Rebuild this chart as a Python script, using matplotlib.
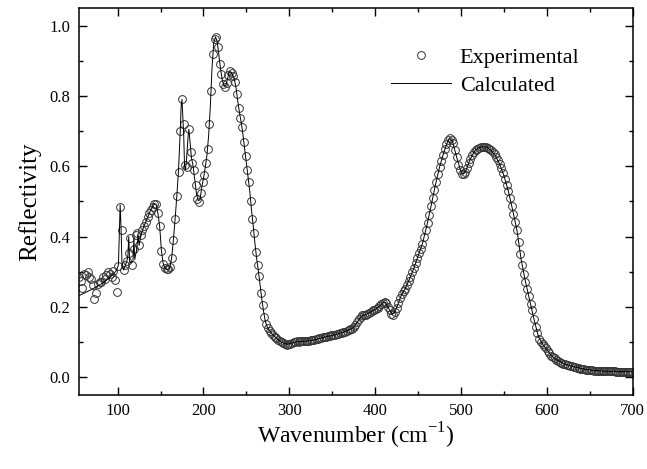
import numpy as np
import matplotlib
matplotlib.use("Agg")
import matplotlib.pyplot as plt
from matplotlib.ticker import MultipleLocator

plt.rcParams["font.family"] = ["Liberation Serif", "DejaVu Serif"]
plt.rcParams["mathtext.fontset"] = "custom"
plt.rcParams["mathtext.rm"] = "Liberation Serif"

# ---------------- data ----------------

# experimental spectrum, sampled every 2 cm-1 from 55 to 699
wn_exp = np.arange(55, 700, 2)
refl_exp = [
    # 55 - 99
    0.285, 0.275, 0.255, 0.295, 0.290, 0.298, 0.285, 0.280, 0.262, 0.224,
    0.240, 0.265, 0.272, 0.270, 0.286, 0.280, 0.290, 0.300, 0.293, 0.285,
    0.302, 0.278, 0.243,
    # 101 - 149
    0.316, 0.483, 0.420, 0.305, 0.319, 0.330, 0.352, 0.395, 0.320, 0.366,
    0.404, 0.409, 0.376, 0.404, 0.418, 0.430, 0.442, 0.455, 0.466, 0.477,
    0.485, 0.494, 0.492, 0.466, 0.430,
    # 151 - 199
    0.360, 0.322, 0.310, 0.307, 0.308, 0.315, 0.340, 0.390, 0.450, 0.515,
    0.584, 0.700, 0.790, 0.720, 0.605, 0.598, 0.705, 0.640, 0.610, 0.590,
    0.546, 0.507, 0.499, 0.525, 0.556,
    # 201 - 249
    0.575, 0.610, 0.650, 0.720, 0.815, 0.920, 0.962, 0.968, 0.940, 0.890,
    0.862, 0.835, 0.824, 0.836, 0.860, 0.871, 0.865, 0.856, 0.840, 0.805,
    0.765, 0.738, 0.712, 0.670, 0.630,
    # 251 - 299
    0.590, 0.555, 0.500, 0.450, 0.410, 0.355, 0.320, 0.288, 0.240, 0.205,
    0.172, 0.152, 0.140, 0.132, 0.126, 0.120, 0.115, 0.111, 0.107, 0.103,
    0.100, 0.098, 0.096, 0.093, 0.094,
    # 301 - 349
    0.096, 0.098, 0.100, 0.101, 0.102, 0.101, 0.102, 0.103, 0.102, 0.103,
    0.104, 0.104, 0.105, 0.106, 0.107, 0.108, 0.110, 0.111, 0.113, 0.114,
    0.115, 0.116, 0.117, 0.118, 0.119,
    # 351 - 399
    0.120, 0.121, 0.122, 0.124, 0.126, 0.127, 0.129, 0.130, 0.132, 0.134,
    0.136, 0.138, 0.142, 0.148, 0.156, 0.165, 0.172, 0.176, 0.176, 0.177,
    0.180, 0.183, 0.186, 0.190, 0.192,
    # 401 - 449
    0.195, 0.198, 0.202, 0.207, 0.212, 0.214, 0.210, 0.200, 0.190, 0.181,
    0.178, 0.185, 0.198, 0.212, 0.226, 0.236, 0.244, 0.252, 0.262, 0.274,
    0.286, 0.298, 0.310, 0.324, 0.338,
    # 451 - 499
    0.352, 0.366, 0.380, 0.398, 0.418, 0.440, 0.462, 0.486, 0.510, 0.533,
    0.556, 0.578, 0.598, 0.615, 0.632, 0.648, 0.662, 0.674, 0.679, 0.676,
    0.665, 0.645, 0.625, 0.605, 0.588,
    # 501 - 549
    0.579, 0.578, 0.584, 0.596, 0.610, 0.622, 0.632, 0.640, 0.646, 0.650,
    0.653, 0.655, 0.656, 0.656, 0.655, 0.652, 0.649, 0.645, 0.640, 0.634,
    0.626, 0.617, 0.606, 0.594, 0.580,
    # 551 - 599
    0.565, 0.548, 0.530, 0.510, 0.488, 0.465, 0.442, 0.420, 0.385, 0.350,
    0.320, 0.295, 0.272, 0.252, 0.230, 0.208, 0.190, 0.165, 0.143, 0.125,
    0.110, 0.100, 0.094, 0.088, 0.082,
    # 601 - 649
    0.076, 0.070, 0.062, 0.058, 0.054, 0.050, 0.047, 0.044, 0.041, 0.039,
    0.037, 0.036, 0.035, 0.033, 0.031, 0.030, 0.028, 0.027, 0.026, 0.025,
    0.024, 0.023, 0.022, 0.021, 0.021,
    # 651 - 699
    0.020, 0.020, 0.019, 0.019, 0.019, 0.018, 0.018, 0.018, 0.018, 0.017,
    0.017, 0.017, 0.017, 0.017, 0.017, 0.016, 0.016, 0.016, 0.016, 0.016,
    0.016, 0.016, 0.016, 0.016, 0.016,
]

# calculated (fitted) curve
wn_calc = [
    55, 60, 65, 70, 75, 80, 85, 90, 95, 99,
    101, 102, 103, 104, 105, 107, 109, 111, 112, 113,
    114, 116, 118, 119, 120, 122, 124, 125, 127, 129,
    132, 135, 138, 141, 143, 145, 147, 149, 151, 153,
    155, 157, 159, 161, 163, 165, 167, 169, 171, 173,
    174, 175, 176, 177, 178, 179, 180, 182, 183, 184,
    186, 188, 190, 192, 194, 196, 198, 200, 202, 204,
    206, 208, 210, 212, 214, 216, 218, 220, 222, 224,
    226, 228, 230, 232, 234, 236, 238, 240, 242, 244,
    246, 248, 250, 252, 254, 256, 258, 260, 262, 264,
    266, 268, 270, 272, 274, 276, 280, 285, 290, 295,
    298, 302, 308, 315, 320, 330, 340, 350, 360, 370,
    375, 380, 384, 388, 395, 400, 405, 410, 412, 416,
    420, 423, 426, 430, 435, 440, 445, 450, 455, 460,
    465, 470, 475, 480, 485, 487, 490, 495, 500, 503,
    506, 510, 515, 520, 525, 530, 535, 540, 545, 550,
    555, 560, 565, 570, 575, 580, 585, 590, 595, 600,
    605, 610, 620, 630, 640, 650, 660, 670, 680, 690,
    700,
]
refl_calc = [
    0.232, 0.238, 0.244, 0.250, 0.257, 0.264, 0.272, 0.282, 0.293, 0.305,
    0.320, 0.400, 0.490, 0.430, 0.330, 0.305, 0.318, 0.332, 0.345, 0.400,
    0.330, 0.325, 0.330, 0.395, 0.335, 0.360, 0.405, 0.375, 0.400, 0.418,
    0.437, 0.455, 0.472, 0.486, 0.494, 0.490, 0.466, 0.430, 0.362, 0.325,
    0.311, 0.306, 0.307, 0.315, 0.340, 0.390, 0.450, 0.515, 0.590, 0.700,
    0.770, 0.790, 0.740, 0.690, 0.600, 0.590, 0.610, 0.680, 0.705, 0.680,
    0.625, 0.600, 0.560, 0.520, 0.502, 0.505, 0.540, 0.565, 0.595, 0.630,
    0.685, 0.770, 0.880, 0.950, 0.968, 0.955, 0.915, 0.875, 0.845, 0.828,
    0.830, 0.848, 0.868, 0.868, 0.860, 0.848, 0.822, 0.785, 0.752, 0.725,
    0.690, 0.650, 0.610, 0.572, 0.528, 0.475, 0.430, 0.380, 0.337, 0.302,
    0.262, 0.222, 0.188, 0.160, 0.145, 0.136, 0.123, 0.111, 0.101, 0.096,
    0.094, 0.097, 0.101, 0.102, 0.103, 0.107, 0.114, 0.119, 0.126, 0.135,
    0.142, 0.160, 0.174, 0.177, 0.186, 0.193, 0.202, 0.213, 0.213, 0.195,
    0.179, 0.185, 0.205, 0.231, 0.252, 0.280, 0.310, 0.345, 0.380, 0.429,
    0.486, 0.545, 0.598, 0.640, 0.674, 0.679, 0.671, 0.625, 0.583, 0.578,
    0.590, 0.616, 0.640, 0.652, 0.656, 0.654, 0.645, 0.630, 0.606, 0.573,
    0.530, 0.477, 0.420, 0.335, 0.272, 0.219, 0.165, 0.117, 0.094, 0.079,
    0.062, 0.052, 0.038, 0.031, 0.025, 0.021, 0.019, 0.017, 0.017, 0.016,
    0.016,
]

# ---------------- plot ----------------

fig = plt.figure(figsize=(6.47, 4.69), dpi=100)
ax = fig.add_axes([0.122, 0.158, 0.856, 0.825])

ax.plot(wn_exp, refl_exp, "o", ms=5.6, mfc="none", mec="#333333", mew=0.7,
        label="Experimental")
ax.plot(wn_calc, refl_calc, "-", color="black", lw=0.7, label="Calculated")

ax.set_xlim(55, 700)
ax.set_ylim(-0.05, 1.05)
ax.xaxis.set_major_locator(MultipleLocator(100))
ax.xaxis.set_minor_locator(MultipleLocator(50))
ax.yaxis.set_minor_locator(MultipleLocator(0.1))
ax.set_yticks([0.0, 0.2, 0.4, 0.6, 0.8, 1.0])
ax.set_yticklabels(["0.0", "0.2", "0.4", "0.6", "0.8", "1.0"])

ax.tick_params(which="both", direction="in", top=True, right=True,
               labelsize=12, width=1.0, pad=6)
ax.tick_params(which="major", length=6)
ax.tick_params(which="minor", length=3)
for s in ax.spines.values():
    s.set_linewidth(1.1)

ax.set_xlabel(r"Wavenumber (cm$^{\mathregular{-1}}$)", fontsize=17, labelpad=1)
ax.set_ylabel("Reflectivity", fontsize=18, labelpad=6)

leg = ax.legend(loc="upper right", bbox_to_anchor=(0.94, 0.95), frameon=False,
                fontsize=16, handlelength=2.7, handletextpad=0.4,
                labelspacing=0.35)

fig.savefig("out.png", dpi=100)
